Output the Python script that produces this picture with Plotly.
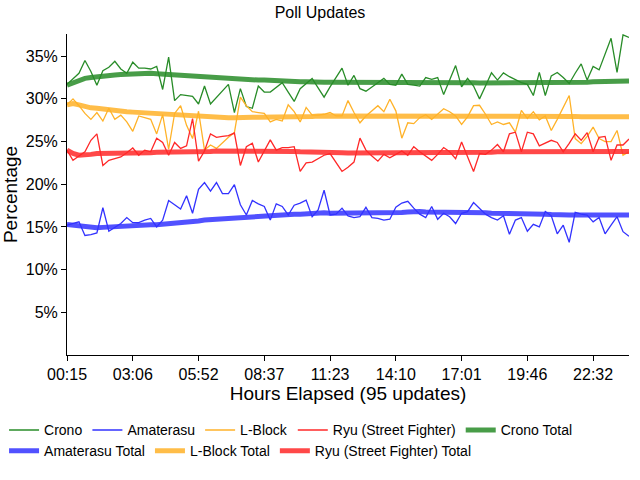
import plotly.graph_objects as go

tick_labels = ["00:15", "03:06", "05:52", "08:37", "11:23", "14:10", "17:01", "19:46", "22:32"]
tick_step = 11
n_updates = 95
y_ticks = [5, 10, 15, 20, 25, 30, 35]

crono = [31.7, 32.3, 33.0, 34.5, 33.2, 31.6, 33.3, 33.7, 34.4, 33.5,
         33.0, 34.3, 33.6, 33.6, 33.5, 33.8, 31.1, 34.9, 29.8, 30.5,
         30.4, 30.3, 29.4, 31.5, 29.4, 30.2, 31.0, 31.7, 28.4, 31.2,
         29.1, 28.9, 31.5, 30.8, 30.8, 31.3, 31.9, 30.8, 29.7, 31.2,
         31.8, 32.4, 31.3, 30.2, 31.4, 32.5, 33.6, 31.6, 32.75, 31.2,
         30.9, 31.4, 31.9, 32.4, 31.7, 31.6, 32.9, 31.7, 31.6, 31.5,
         32.5, 32.3, 32.5, 30.5, 32.2, 33.9, 31.4, 32.4, 31.5, 30.0,
         31.5, 33.05, 32.2, 33.05, 32.6, 32.2, 31.9, 31.7, 30.4, 33.1,
         30.4, 32.7, 33.1, 32.5, 31.8, 33.0, 34.1, 32.2, 33.8, 33.4,
         35.2, 37.1, 33.1, 37.5, 37.2]

amaterasu = [15.2, 15.4, 15.6, 14.0, 14.1, 14.3, 17.25, 14.5, 15.0, 15.4,
             16.1, 15.5, 15.5, 15.8, 16.0, 15.0, 15.8, 18.1, 17.6, 17.1,
             18.65, 16.6, 19.4, 20.2, 19.2, 20.2, 18.9, 18.9, 19.95, 17.6,
             16.4, 18.1, 17.7, 17.4, 15.8, 17.7, 17.4, 16.4, 17.55, 17.8,
             18.15, 16.2, 17.0, 19.3, 16.4, 16.5, 17.2, 16.3, 16.1, 16.2,
             17.3, 16.1, 16.0, 15.8, 15.9, 17.3, 17.8, 18.0, 17.2, 16.5,
             16.1, 17.4, 15.9, 16.6, 16.2, 15.4, 16.6, 16.8, 17.85, 17.2,
             16.5, 16.1, 15.8, 16.3, 14.15, 15.8, 16.1, 14.5, 15.3, 15.0,
             16.8, 16.3, 14.2, 15.2, 13.2, 16.7, 16.5, 16.4, 15.6, 16.1,
             14.2, 15.2, 16.2, 14.45, 13.9]

lblock = [29.3, 30.0, 29.2, 28.3, 27.6, 28.4, 27.4, 28.9, 27.6, 28.1,
          27.3, 26.2, 28.0, 27.8, 27.6, 25.9, 28.15, 24.1, 28.3, 29.2,
          26.9, 25.35, 28.55, 24.0, 24.6, 24.2, 24.9, 25.5, 26.05, 30.2,
          29.2, 28.5, 28.4, 28.3, 27.3, 27.6, 27.4, 29.3, 28.5, 27.3,
          29.0, 28.1, 28.1, 28.2, 28.4, 28.0, 28.0, 29.8, 28.4, 27.2,
          28.0, 28.6, 29.2, 28.5, 29.95, 28.6, 25.4, 27.2, 27.1, 27.8,
          28.15, 27.6, 28.2, 28.85, 28.5, 28.0, 27.0, 27.9, 29.2, 29.25,
          28.2, 27.0, 27.3, 27.0, 27.2, 26.1, 28.65, 27.7, 28.5, 27.55,
          28.0, 26.3, 27.6, 29.05, 30.4, 25.35, 24.75, 25.6, 26.7, 25.35,
          25.0, 25.0, 26.3, 23.4, 23.8]

ryu = [24.0, 22.8, 23.3, 23.8, 25.15, 25.9, 22.2, 22.8, 23.0, 23.2,
       23.7, 24.25, 23.4, 24.0, 23.8, 25.4, 24.9, 23.4, 24.9, 24.2,
       24.5, 27.7, 22.7, 23.9, 25.9, 25.5, 25.6, 25.7, 26.0, 22.2,
       24.4, 24.8, 22.6, 23.9, 25.2, 24.0, 24.3, 24.3, 24.4, 21.5,
       22.5, 22.6, 23.0, 23.4, 23.6, 22.5, 21.5, 22.0, 22.6, 25.4,
       24.0, 23.3, 22.7, 23.5, 23.1, 23.5, 23.9, 23.4, 24.4, 23.8,
       23.3, 22.8, 23.5, 24.3, 23.8, 23.0, 24.95, 23.2, 21.5, 23.6,
       23.5, 24.0, 24.65, 23.8, 25.9, 26.1, 23.8, 26.1, 25.9, 24.5,
       24.8, 25.15, 24.9, 23.8, 24.8, 25.9, 25.15, 26.05, 23.8, 25.5,
       25.6, 22.8, 24.6, 24.6, 25.3]

crono_total = [31.6, 31.9, 32.2, 32.4, 32.5, 32.6, 32.7, 32.75, 32.8, 32.85,
               32.9, 32.95, 33.0, 33.0, 33.0, 32.95, 32.9, 32.9, 32.85, 32.8,
               32.75, 32.7, 32.65, 32.6, 32.55, 32.5, 32.45, 32.4, 32.35, 32.3,
               32.3, 32.25, 32.2, 32.2, 32.15, 32.1, 32.1, 32.05, 32.05, 32.0,
               32.0, 31.95, 31.95, 31.95, 31.95, 31.95, 32.0, 31.95, 31.95, 31.9,
               31.9, 31.9, 31.9, 31.9, 31.9, 31.9, 31.95, 31.95, 31.9, 31.9,
               31.9, 31.9, 31.9, 31.9, 31.9, 31.95, 31.9, 31.95, 31.9, 31.85,
               31.85, 31.9, 31.9, 31.9, 31.9, 31.9, 31.9, 31.9, 31.85, 31.9,
               31.85, 31.85, 31.9, 31.9, 31.9, 31.9, 31.95, 31.95, 32.0, 32.0,
               32.05, 32.05, 32.05, 32.1, 32.1]

amaterasu_total = [15.3, 15.2, 15.1, 15.0, 14.95, 14.9, 14.95, 15.0, 15.05, 15.1,
                   15.15, 15.15, 15.2, 15.2, 15.25, 15.25, 15.3, 15.35, 15.4, 15.45,
                   15.5, 15.6, 15.7, 15.8, 15.85, 15.9, 16.0, 16.05, 16.1, 16.15,
                   16.2, 16.25, 16.3, 16.35, 16.35, 16.4, 16.4, 16.45, 16.5, 16.5,
                   16.55, 16.55, 16.6, 16.65, 16.6, 16.6, 16.6, 16.6, 16.6, 16.6,
                   16.6, 16.6, 16.6, 16.6, 16.6, 16.65, 16.7, 16.75, 16.8, 16.8,
                   16.75, 16.75, 16.7, 16.7, 16.7, 16.7, 16.65, 16.65, 16.7, 16.7,
                   16.65, 16.6, 16.6, 16.6, 16.6, 16.55, 16.55, 16.5, 16.5, 16.5,
                   16.5, 16.45, 16.4, 16.4, 16.4, 16.4, 16.4, 16.4, 16.4, 16.4,
                   16.4, 16.4, 16.4, 16.4, 16.4]

lblock_total = [29.3, 29.45, 29.3, 29.1, 28.95, 28.9, 28.8, 28.7, 28.65, 28.6,
                28.5, 28.45, 28.4, 28.35, 28.3, 28.25, 28.2, 28.2, 28.15, 28.15,
                28.1, 28.05, 28.0, 28.0, 27.95, 27.9, 27.85, 27.8, 27.8, 27.85,
                27.85, 27.85, 27.85, 27.85, 27.9, 27.9, 27.9, 27.95, 27.95, 27.95,
                27.95, 27.95, 28.0, 28.0, 28.0, 28.0, 28.0, 28.05, 28.05, 28.0,
                28.0, 28.0, 28.0, 28.0, 28.05, 28.05, 28.0, 28.0, 28.0, 28.0,
                28.0, 28.0, 28.0, 28.0, 28.0, 28.0, 28.0, 28.0, 28.0, 28.05,
                28.05, 28.0, 28.0, 28.0, 28.0, 28.0, 28.0, 28.0, 28.0, 28.0,
                27.95, 27.95, 27.95, 27.95, 27.95, 27.95, 27.9, 27.9, 27.9, 27.9,
                27.9, 27.9, 27.9, 27.9, 27.9]

ryu_total = [24.0, 23.6, 23.4, 23.4, 23.5, 23.6, 23.6, 23.6, 23.65, 23.7,
             23.7, 23.7, 23.7, 23.7, 23.7, 23.75, 23.75, 23.75, 23.75, 23.75,
             23.8, 23.85, 23.8, 23.8, 23.85, 23.9, 23.9, 23.9, 23.95, 23.9,
             23.9, 23.9, 23.9, 23.9, 23.9, 23.9, 23.85, 23.85, 23.85, 23.8,
             23.8, 23.75, 23.75, 23.75, 23.7, 23.7, 23.7, 23.65, 23.65, 23.7,
             23.7, 23.7, 23.7, 23.7, 23.7, 23.7, 23.7, 23.7, 23.7, 23.7,
             23.7, 23.7, 23.7, 23.7, 23.7, 23.7, 23.7, 23.7, 23.7, 23.7,
             23.75, 23.75, 23.8, 23.8, 23.8, 23.8, 23.8, 23.8, 23.8, 23.8,
             23.8, 23.8, 23.85, 23.85, 23.85, 23.85, 23.85, 23.85, 23.85, 23.85,
             23.85, 23.85, 23.85, 23.85, 23.85]

x = list(range(n_updates))

FONT = "Liberation Sans, Arial, sans-serif"

# (name, values, colour, width, legend row)
series = [
    ("Crono", crono, "rgb(40,140,40)", 1.3, "legend"),
    ("Amaterasu", amaterasu, "rgb(50,50,255)", 1.3, "legend"),
    ("L-Block", lblock, "rgb(255,178,40)", 1.3, "legend"),
    ("Ryu (Street Fighter)", ryu, "rgb(255,40,40)", 1.3, "legend"),
    ("Crono Total", crono_total, "rgba(40,140,40,0.85)", 5, "legend"),
    ("Amaterasu Total", amaterasu_total, "rgba(50,50,255,0.85)", 5, "legend2"),
    ("L-Block Total", lblock_total, "rgba(255,178,40,0.85)", 5, "legend2"),
    ("Ryu (Street Fighter) Total", ryu_total, "rgba(255,40,40,0.85)", 5, "legend2"),
]

fig = go.Figure()
# draw thin first, then thick totals on top
for name, ys, col, w, lg in sorted(series, key=lambda s: s[3]):
    pass
for name, ys, col, w, lg in series:
    fig.add_trace(go.Scatter(x=x[:len(ys)], y=ys, name=name, mode="lines",
                             legend=lg, line=dict(color=col, width=w)))

legend_common = dict(orientation="h", xanchor="left", yanchor="top",
                     font=dict(family=FONT, size=14, color="black"),
                     itemwidth=30, tracegroupgap=0, bgcolor="rgba(0,0,0,0)")

fig.update_layout(
    width=640, height=480,
    margin=dict(l=67, r=11, t=34, b=125, autoexpand=False),
    paper_bgcolor="white", plot_bgcolor="white",
    font=dict(family=FONT, size=16, color="black"),
    title=dict(text="Poll Updates", x=0.5, xanchor="center", y=0.975, yanchor="middle",
               font=dict(family=FONT, size=16, color="black")),
    showlegend=True,
    legend=dict(x=-0.112, y=-0.185, **legend_common),
    legend2=dict(x=-0.112, y=-0.25, **legend_common),
)
fig.update_xaxes(
    range=[0, n_updates - 1],
    tickvals=[i * tick_step for i in range(len(tick_labels))],
    ticktext=tick_labels,
    tickangle=0,
    showline=True, linecolor="black", linewidth=1,
    ticks="outside", ticklen=5, tickcolor="black",
    showgrid=False, zeroline=False,
    title=dict(text="Hours Elapsed (95 updates)", standoff=2),
)
fig.update_yaxes(
    range=[0, 37.6],
    tickvals=y_ticks,
    ticktext=[f"{v}%" for v in y_ticks],
    showline=True, linecolor="black", linewidth=1,
    ticks="outside", ticklen=5, tickcolor="black",
    showgrid=False, zeroline=False,
    title=dict(text="Percentage", standoff=8),
)

fig.write_html("out.html")
